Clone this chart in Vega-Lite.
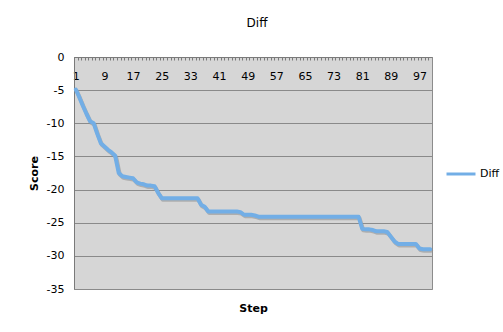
{
  "$schema": "https://vega.github.io/schema/vega-lite/v6.json",
  "autosize": "none",
  "width": 358,
  "height": 232,
  "padding": {"left": 74, "top": 57, "right": 71, "bottom": 43},
  "background": "#ffffff",
  "title": {
    "text": "Diff",
    "font": "DejaVu Sans",
    "fontSize": 12,
    "fontWeight": "normal",
    "color": "#000000",
    "anchor": "middle",
    "dx": 4,
    "offset": 21
  },
  "config": {
    "view": {"fill": "#D6D6D6", "stroke": "#8C8C8C", "strokeWidth": 1},
    "axis": {"labelFont": "DejaVu Sans", "titleFont": "DejaVu Sans", "labelColor": "#000000", "titleColor": "#000000"}
  },
  "data": {
    "values": [
      {"step": 1, "score": -4.9}, {"step": 2, "score": -6.1}, {"step": 3, "score": -7.4}, {"step": 4, "score": -8.6},
      {"step": 5, "score": -9.7}, {"step": 6, "score": -10.0}, {"step": 7, "score": -11.6}, {"step": 8, "score": -13.0},
      {"step": 9, "score": -13.5}, {"step": 10, "score": -14.0}, {"step": 11, "score": -14.4}, {"step": 12, "score": -14.9},
      {"step": 13, "score": -17.5}, {"step": 14, "score": -18.0}, {"step": 15, "score": -18.1}, {"step": 16, "score": -18.2},
      {"step": 17, "score": -18.3}, {"step": 18, "score": -18.9}, {"step": 19, "score": -19.1}, {"step": 20, "score": -19.2},
      {"step": 21, "score": -19.4}, {"step": 22, "score": -19.4}, {"step": 23, "score": -19.5}, {"step": 24, "score": -20.5},
      {"step": 25, "score": -21.3}, {"step": 26, "score": -21.3}, {"step": 27, "score": -21.3}, {"step": 28, "score": -21.3},
      {"step": 29, "score": -21.3}, {"step": 30, "score": -21.3}, {"step": 31, "score": -21.3}, {"step": 32, "score": -21.3},
      {"step": 33, "score": -21.3}, {"step": 34, "score": -21.3}, {"step": 35, "score": -21.3}, {"step": 36, "score": -22.3},
      {"step": 37, "score": -22.6}, {"step": 38, "score": -23.3}, {"step": 39, "score": -23.3}, {"step": 40, "score": -23.3},
      {"step": 41, "score": -23.3}, {"step": 42, "score": -23.3}, {"step": 43, "score": -23.3}, {"step": 44, "score": -23.3},
      {"step": 45, "score": -23.3}, {"step": 46, "score": -23.3}, {"step": 47, "score": -23.4}, {"step": 48, "score": -23.8},
      {"step": 49, "score": -23.8}, {"step": 50, "score": -23.8}, {"step": 51, "score": -23.9}, {"step": 52, "score": -24.1},
      {"step": 53, "score": -24.1}, {"step": 54, "score": -24.1}, {"step": 55, "score": -24.1}, {"step": 56, "score": -24.1},
      {"step": 57, "score": -24.1}, {"step": 58, "score": -24.1}, {"step": 59, "score": -24.1}, {"step": 60, "score": -24.1},
      {"step": 61, "score": -24.1}, {"step": 62, "score": -24.1}, {"step": 63, "score": -24.1}, {"step": 64, "score": -24.1},
      {"step": 65, "score": -24.1}, {"step": 66, "score": -24.1}, {"step": 67, "score": -24.1}, {"step": 68, "score": -24.1},
      {"step": 69, "score": -24.1}, {"step": 70, "score": -24.1}, {"step": 71, "score": -24.1}, {"step": 72, "score": -24.1},
      {"step": 73, "score": -24.1}, {"step": 74, "score": -24.1}, {"step": 75, "score": -24.1}, {"step": 76, "score": -24.1},
      {"step": 77, "score": -24.1}, {"step": 78, "score": -24.1}, {"step": 79, "score": -24.1}, {"step": 80, "score": -24.1},
      {"step": 81, "score": -25.9}, {"step": 82, "score": -26.0}, {"step": 83, "score": -26.0}, {"step": 84, "score": -26.1},
      {"step": 85, "score": -26.3}, {"step": 86, "score": -26.3}, {"step": 87, "score": -26.3}, {"step": 88, "score": -26.4},
      {"step": 89, "score": -27.1}, {"step": 90, "score": -27.8}, {"step": 91, "score": -28.2}, {"step": 92, "score": -28.2},
      {"step": 93, "score": -28.2}, {"step": 94, "score": -28.2}, {"step": 95, "score": -28.2}, {"step": 96, "score": -28.2},
      {"step": 97, "score": -28.9}, {"step": 98, "score": -29.0}, {"step": 99, "score": -29.0}, {"step": 100, "score": -29.0}
    ]
  },
  "encoding": {
    "x": {
      "field": "step",
      "type": "ordinal",
      "scale": {"type": "point", "padding": 0.5},
      "axis": {
        "orient": "top",
        "title": "Step",
        "titleFontSize": 11,
        "titleFontWeight": "bold",
        "titleY": 254,
        "titleBaseline": "alphabetic",
        "labelAngle": 0,
        "labelFontSize": 11,
        "labelExpr": "(datum.value - 1) % 8 === 0 ? datum.label : ''",
        "labelBaseline": "alphabetic",
        "labelAlign": "center",
        "labelPadding": -19,
        "labelOffset": 1.79,
        "tickOffset": -1.79,
        "tickSize": -3,
        "tickColor": "#7A7A7A",
        "domainColor": "#7A7A7A",
        "labelOverlap": false,
        "grid": false
      }
    },
    "y": {
      "field": "score",
      "type": "quantitative",
      "scale": {"domain": [-35, 0], "nice": false, "zero": false},
      "axis": {
        "values": [-35, -30, -25, -20, -15, -10, -5, 0],
        "labelExpr": "'' + datum.value",
        "title": "Score",
        "titleFontSize": 11,
        "titleFontWeight": "bold",
        "titleX": -37,
        "titleY": 116,
        "titleBaseline": "alphabetic",
        "titleAngle": 270,
        "labelFontSize": 11,
        "labelPadding": 10,
        "tickSize": 0,
        "domainColor": "#7A7A7A",
        "grid": true,
        "gridColor": "#8A8A8A",
        "gridWidth": 1
      }
    }
  },
  "layer": [
    {
      "mark": {"type": "line", "color": "#8E8E8E", "strokeWidth": 4, "opacity": 0.55, "xOffset": 1, "yOffset": 1.5, "strokeJoin": "round", "strokeCap": "round"}
    },
    {
      "mark": {"type": "line", "strokeWidth": 4, "strokeJoin": "round", "strokeCap": "round"},
      "encoding": {
        "color": {
          "datum": "Diff",
          "scale": {"range": ["#72AEE6"]},
          "legend": {
            "title": null,
            "orient": "none",
            "legendX": 371,
            "legendY": 101,
            "symbolType": "stroke",
            "symbolStrokeWidth": 3,
            "symbolSize": 840,
            "labelFont": "DejaVu Sans",
            "labelFontSize": 11,
            "labelColor": "#000000",
            "labelOffset": 3
          }
        }
      }
    }
  ]
}
